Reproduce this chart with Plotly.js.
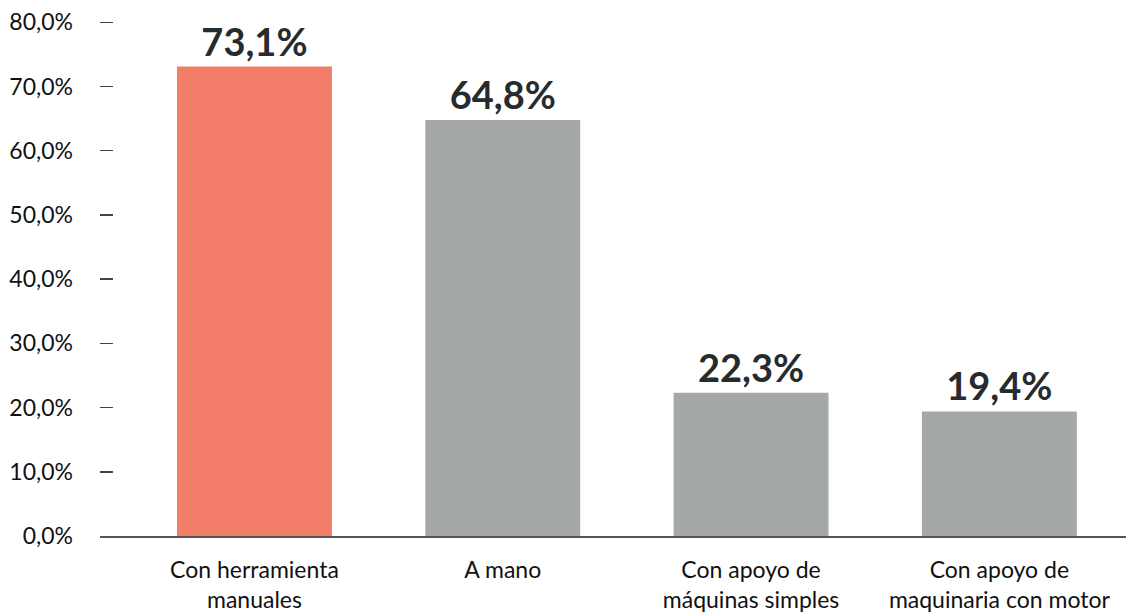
<!DOCTYPE html>
<html>
<head>
<meta charset="utf-8">
<script src="https://cdn.plot.ly/plotly-3.0.1.min.js"></script>
<style>html,body{margin:0;padding:0;background:#fff;}#chart{width:1126px;height:615px;}</style>
</head>
<body>
<div id="chart"></div>
<script>
const categories = ["Con herramienta<br>manuales", "A mano", "Con apoyo de<br>máquinas simples", "Con apoyo de<br>maquinaria con motor"];
const values = [73.1, 64.8, 22.3, 19.4];
const barColors = ["#f27d69", "#a5a8a9", "#a5a8a9", "#a5a8a9"];
const yTicks = [0, 10, 20, 30, 40, 50, 60, 70, 80];

const FONT = "Lato, 'Open Sans', sans-serif";

const trace = {
  type: "bar",
  x: categories,
  y: values,
  marker: {color: barColors},
  width: 0.624,
  texttemplate: "%{y:.1f}%",
  textposition: "outside",
  cliponaxis: false,
  textfont: {family: FONT, size: 38, color: "#262b2e", weight: 700},
  hoverinfo: "skip"
};

const layout = {
  width: 1126, height: 615,
  margin: {l: 100, r: 0, t: 21, b: 79},
  paper_bgcolor: "#fff", plot_bgcolor: "#fff",
  separators: ",.",
  showlegend: false,
  font: {family: FONT, color: "#111"},
  xaxis: {
    type: "category",
    range: [-0.622, 3.51],
    showline: true, linecolor: "#555", linewidth: 2,
    ticks: "", showgrid: false, zeroline: false,
    tickfont: {family: FONT, size: 23, color: "#111"},
    ticklabelstandoff: 12
  },
  yaxis: {
    range: [0, 80.2],
    tickvals: yTicks,
    ticktext: yTicks.map(v => v.toFixed(1).replace(".", ",") + "%"),
    ticks: "inside", ticklen: 13, tickwidth: 1.5, tickcolor: "#444",
    showline: false, showgrid: false, zeroline: false,
    tickfont: {family: FONT, size: 23, color: "#111"},
    ticklabelstandoff: 26
  }
};

Plotly.newPlot("chart", [trace], layout, {displayModeBar: false, staticPlot: true});
</script>
</body>
</html>
